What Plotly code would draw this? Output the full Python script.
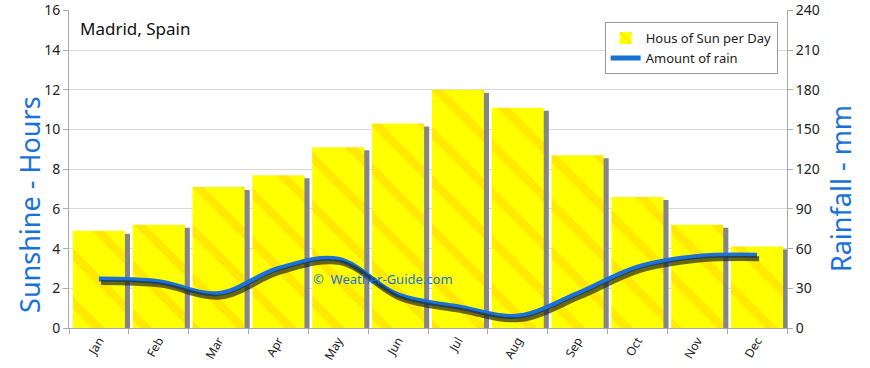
import plotly.graph_objects as go

months = ["Jan", "Feb", "Mar", "Apr", "May", "Jun", "Jul", "Aug", "Sep", "Oct", "Nov", "Dec"]
sun_hours = [4.9, 5.2, 7.1, 7.7, 9.1, 10.3, 12.0, 11.1, 8.7, 6.6, 5.2, 4.1]
rain_mm = [37, 35, 26, 45, 52, 25, 16, 9, 26, 46, 54, 55]

FONT = "Noto Sans"
BLUE = "#1a72d9"
BW = 0.87

fig = go.Figure()

# bar drop shadows
fig.add_trace(go.Bar(
    x=months, y=[v - 0.15 for v in sun_hours], width=BW, offset=-BW / 2 + 0.085,
    marker=dict(color="#858585", line=dict(width=0)), showlegend=False, hoverinfo="skip"))

# sunshine bars
fig.add_trace(go.Bar(
    x=months, y=sun_hours, width=BW, offset=-BW / 2, name="Hous of Sun per Day",
    marker=dict(color="#ffff00", line=dict(width=0),
                pattern=dict(shape="\\", fgcolor="#ffb400", fgopacity=0.3, size=34, solidity=0.25))))

# rain line shadow (shifted axes)
fig.add_trace(go.Scatter(
    x=months, y=rain_mm, mode="lines", line=dict(color="rgba(40,40,20,0.7)", width=5, shape="spline", smoothing=1.0),
    xaxis="x3", yaxis="y3", showlegend=False, hoverinfo="skip"))

# rain line
fig.add_trace(go.Scatter(
    x=months, y=rain_mm, mode="lines", name="Amount of rain",
    line=dict(color=BLUE, width=5, shape="spline", smoothing=1.0), yaxis="y2"))

fig.update_layout(
    width=870, height=368,
    margin=dict(l=69, r=83, t=10, b=40),
    paper_bgcolor="white", plot_bgcolor="white",
    barmode="overlay",
    font=dict(family=FONT, color="#222222", size=13),
    showlegend=True,
    legend=dict(x=0.987, y=0.962, xanchor="right", yanchor="top",
                bgcolor="white", bordercolor="#9a9a9a", borderwidth=1,
                font=dict(size=13, color="#222222"), tracegroupgap=2),
    xaxis=dict(type="category", range=[-0.5, 11.5], tickson="boundaries", ticks="outside",
               ticklen=5, tickcolor="#aaaaaa", showline=True, linecolor="#aaaaaa",
               tickangle=-60, tickfont=dict(size=12), showgrid=False, automargin=False),
    yaxis=dict(range=[0, 16.02], tickvals=list(range(0, 17, 2)), showgrid=True, gridcolor="#d9d9d9",
               ticks="outside", ticklen=5, tickcolor="#aaaaaa", showline=True, linecolor="#aaaaaa",
               tickfont=dict(size=14), zeroline=False, automargin=False),
    yaxis2=dict(range=[0, 240.3], tickvals=list(range(0, 241, 30)), overlaying="y", side="right",
                showgrid=False, ticks="outside", ticklen=5, tickcolor="#aaaaaa", showline=True,
                linecolor="#aaaaaa", tickfont=dict(size=14), zeroline=False, automargin=False),
    xaxis3=dict(type="category", range=[-0.535, 11.465], overlaying="x", visible=False),
    yaxis3=dict(range=[2.6, 242.9], overlaying="y", visible=False),
    annotations=[
        dict(text="Madrid, Spain", xref="paper", yref="paper", x=0.0125, y=0.985,
             xanchor="left", yanchor="top", showarrow=False, font=dict(size=17, color="#111111")),
        dict(text="©  Weather-Guide.com", xref="x", yref="y2", x=4.75, y=37,
             showarrow=False, font=dict(size=13, color=BLUE)),
        dict(text="Sunshine - Hours", xref="paper", yref="paper", x=-0.0543, y=0.387,
             xanchor="center", yanchor="middle",
             textangle=-90, showarrow=False, font=dict(size=27, color=BLUE)),
        dict(text="Rainfall - mm", xref="paper", yref="paper", x=1.0738, y=0.44,
             xanchor="center", yanchor="middle",
             textangle=-90, showarrow=False, font=dict(size=27, color=BLUE)),
    ],
)

fig.write_html("out.html", config={"displayModeBar": False},
               post_script="document.body.style.margin='0';document.body.style.padding='0';")
